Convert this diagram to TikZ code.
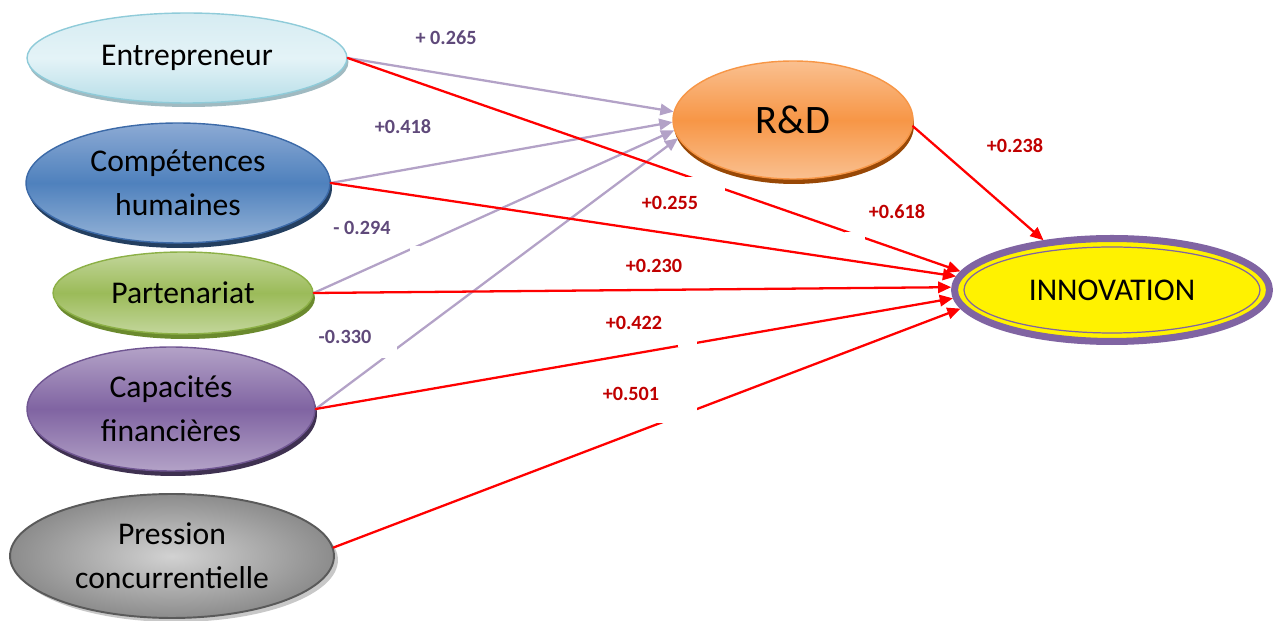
\documentclass[tikz,border=0pt]{standalone}
\usepackage{fontspec}
\setmainfont{Carlito}
\usetikzlibrary{shapes.geometric,arrows.meta,shadows}

\definecolor{lavend}{HTML}{B3A2C7}
\definecolor{coefpurple}{HTML}{5F497A}
\definecolor{coefred}{HTML}{C00000}
\definecolor{innpurple}{HTML}{8064A2}

\begin{document}
\begin{tikzpicture}[x=0.02cm, y=-0.02cm, line cap=round, line join=round,
  >={Triangle[length=7.5pt, width=6.5pt]},
  factor/.style={ellipse, inner sep=0pt, align=center, font=\fontsize{18}{25}\selectfont},
  tord/.style={->, line width=1.3pt, color=lavend},
  toinno/.style={->, line width=1.3pt, color=red},
  coefp/.style={font=\bfseries\fontsize{11.5}{13}\selectfont, text=coefpurple},
  coefr/.style={font=\bfseries\fontsize{11.5}{13}\selectfont, text=coefred}]
  \useasboundingbox (0,0) rectangle (1276,621);

  % Factors
  \node[factor, minimum width=6.4cm, minimum height=1.8cm, draw={rgb,255:red,143;green,203;blue,217}, line width=0.8pt,
        top color={rgb,255:red,214;green,236;blue,242}, bottom color={rgb,255:red,183;green,222;blue,232}, middle color={rgb,255:red,228;green,243;blue,247},
        drop shadow={shadow xshift=0.03cm, shadow yshift=-0.08cm, opacity=1, fill={rgb,255:red,160;green,186;blue,193}}]
        (entr) at (187,58) {Entrepreneur};
  \node[factor, minimum width=6.08cm, minimum height=2.4cm, draw={rgb,255:red,60;green,106;blue,168}, line width=0.8pt,
        top color={rgb,255:red,140;green,170;blue,212}, bottom color={rgb,255:red,149;green,179;blue,215}, middle color={rgb,255:red,79;green,129;blue,189},
        drop shadow={shadow xshift=0.04cm, shadow yshift=-0.1cm, opacity=1, fill={rgb,255:red,36;green,63;blue,96}}]
        (comp) at (178,183) {Compétences\\humaines};
  \node[factor, minimum width=5.2cm, minimum height=1.64cm, draw={rgb,255:red,140;green,176;blue,70}, line width=0.8pt,
        top color={rgb,255:red,195;green,214;blue,155}, bottom color={rgb,255:red,195;green,214;blue,155}, middle color={rgb,255:red,155;green,187;blue,89},
        drop shadow={shadow xshift=0.04cm, shadow yshift=-0.1cm, opacity=1, fill={rgb,255:red,107;green,138;blue,46}}]
        (part) at (183,293) {Partenariat};
  \node[factor, minimum width=5.76cm, minimum height=2.48cm, draw={rgb,255:red,112;green,86;blue,146}, line width=0.8pt,
        top color={rgb,255:red,179;green,162;blue,199}, bottom color={rgb,255:red,179;green,162;blue,199}, middle color={rgb,255:red,128;green,100;blue,162},
        drop shadow={shadow xshift=0.04cm, shadow yshift=-0.1cm, opacity=1, fill={rgb,255:red,63;green,49;blue,81}}]
        (cap) at (171,409) {Capacités\\financières};
  \node[factor, minimum width=6.48cm, minimum height=2.48cm, draw={rgb,255:red,90;green,90;blue,90}, line width=1.1pt,
        inner color={rgb,255:red,210;green,210;blue,210}, outer color={rgb,255:red,140;green,140;blue,140},
        drop shadow={shadow xshift=0.08cm, shadow yshift=-0.08cm, opacity=1, fill={rgb,255:red,200;green,200;blue,200}}]
        (pres) at (172,556) {Pression\\concurrentielle};

  % Mediator and outcome
  \node[factor, minimum width=4.8cm, minimum height=2.36cm, font=\fontsize{23}{27}\selectfont, draw={rgb,255:red,247;green,150;blue,70}, line width=0.8pt,
        top color={rgb,255:red,250;green,192;blue,144}, bottom color={rgb,255:red,250;green,192;blue,144}, middle color={rgb,255:red,247;green,150;blue,70},
        drop shadow={shadow xshift=0.02cm, shadow yshift=-0.1cm, opacity=1, fill={rgb,255:red,152;green,72;blue,6}}]
        (rd) at (793,120) {R\&D};
  \node[factor, minimum width=6.3cm, minimum height=2.06cm, draw=innpurple, line width=4pt, fill=yellow]
        (inn) at (1112,290) {INNOVATION};
  \draw[innpurple, line width=0.7pt] (inn.center) ellipse (2.96cm and 0.86cm);

  % Paths to R&D
  \draw[tord] (entr.east) -- (rd.176);
  \draw[tord] (comp.east) -- (rd.181);
  \draw[tord] (part.east) -- (rd.185);
  \draw[tord] (cap.east) -- (rd.189);

  % Paths to innovation
  \draw[toinno] (entr.east) -- (inn.173);
  \draw[toinno] (comp.east) -- (inn.175);
  \draw[toinno] (part.east) -- (inn.179);
  \draw[toinno] (cap.east) -- (inn.183);
  \draw[toinno] (pres.3) -- (inn.187);
  \draw[toinno] (rd.-3) -- (inn.144);

  % Label boxes cutting the lines
  \fill[white] (683,177) rectangle (725,192);
  \fill[white] (845,232) rectangle (865,242);
  \fill[white] (678,337) rectangle (697,347);
  \fill[white] (653,406) rectangle (697,423);
  \fill[white] (410,246) rectangle (420,254);
  \fill[white] (373,346) rectangle (397,358);

  % Coefficients
  \node[coefp] (c265) at (446,38) {+ 0.265};
  \node[coefp] (c418) at (403,127) {+0.418};
  \node[coefp] (c294) at (362,228) {- 0.294};
  \node[coefp] (c330) at (345,337) {-0.330};
  \node[coefr] (c238) at (1015,146) {+0.238};
  \node[coefr] (c255) at (670,203) {+0.255};
  \node[coefr] (c618) at (897,212) {+0.618};
  \node[coefr] (c230) at (654,266) {+0.230};
  \node[coefr] (c422) at (634,323) {+0.422};
  \node[coefr] (c501) at (631,394) {+0.501};
\end{tikzpicture}
\end{document}
